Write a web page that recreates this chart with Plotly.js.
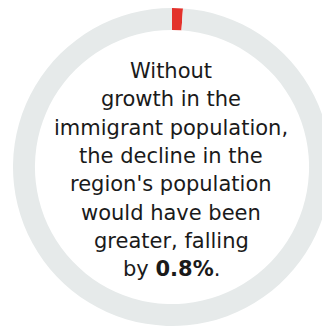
<!DOCTYPE html>
<html>
<head>
<meta charset="utf-8">
<script src="https://cdn.plot.ly/plotly-3.0.1.min.js"></script>
<style>
html,body{margin:0;padding:0;width:322px;height:327px;overflow:hidden;background:#fff;}
#chart{position:absolute;left:13px;top:8px;width:318px;height:318px;}
</style>
</head>
<body>
<div id="chart"></div>
<script>
const sliceLabels = ["Immigrant contribution", "Rest"];
const sliceValues = [1.1, 98.9];
const sliceColors = ["#e3312b", "#e6eaea"];
const centerLines = ["Without", "growth in the", "immigrant population,", "the decline in the", "region's population", "would have been", "greater, falling", "by <b>0.8%</b>."];

const data = [{
  type: "pie",
  labels: sliceLabels,
  values: sliceValues,
  hole: 0.862,
  sort: false,
  direction: "clockwise",
  rotation: 0,
  marker: {colors: sliceColors, line: {width: 0}},
  textinfo: "none",
  hoverinfo: "none",
  showlegend: false
}];

const H = 318, TOP = 8;
const firstCenterPx = 71, lineStepPx = 28.33;
const annotations = centerLines.map((t, i) => ({
  x: 0.497,
  y: 1 - (firstCenterPx + lineStepPx * i - TOP) / H,
  xref: "paper", yref: "paper",
  xanchor: "center", yanchor: "middle",
  text: t, showarrow: false, align: "center",
  font: {family: "DejaVu Sans", size: 21, color: "#1a1a1a"}
}));

const layout = {
  width: 318, height: 318,
  margin: {l: 0, r: 0, t: 0, b: 0},
  paper_bgcolor: "#fff",
  annotations: annotations
};

Plotly.newPlot("chart", data, layout, {staticPlot: true, displayModeBar: false});
</script>
</body>
</html>
